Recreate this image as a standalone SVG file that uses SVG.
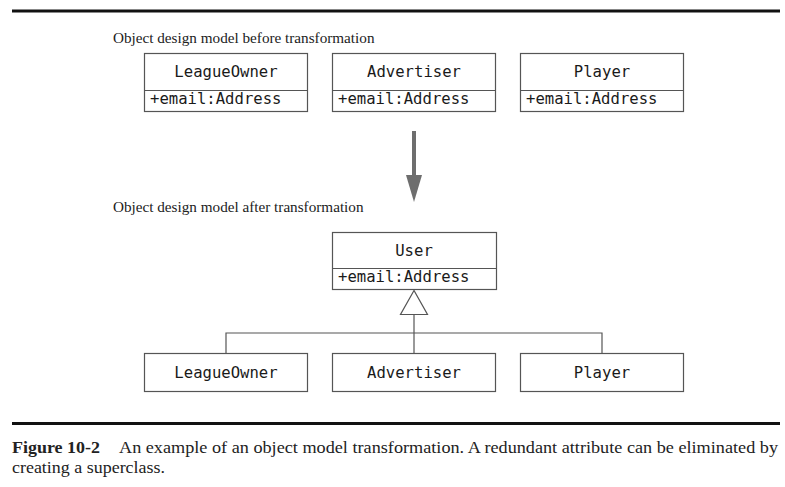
<svg xmlns="http://www.w3.org/2000/svg" width="785" height="487" viewBox="0 0 785 487">
<style>
.box{fill:#fff;stroke:#555;stroke-width:1.2}
.ln{stroke:#555;stroke-width:1.2;fill:none}
.mono{font-family:"DejaVu Sans Mono","Liberation Mono",monospace;font-size:15.6px;fill:#1a1a1a}
.ser{font-family:"Liberation Serif","Times New Roman",serif;font-size:15.2px;fill:#222}
.cap{font-family:"Liberation Serif","Times New Roman",serif;font-size:17px;fill:#222}
.rule{stroke:#111;stroke-width:3}
</style>
<rect width="785" height="487" fill="#fff"/>
<line class="rule" x1="12" y1="11" x2="780" y2="11"/>
<text class="ser" x="113" y="43">Object design model before transformation</text>

<g id="top-leagueowner">
<rect class="box" x="144.5" y="53.5" width="163" height="58"/>
<line class="ln" x1="144.5" y1="90.5" x2="307.5" y2="90.5"/>
<text class="mono" x="226" y="77" text-anchor="middle">LeagueOwner</text>
<text class="mono" x="150" y="104">+email:Address</text>
</g>
<g id="top-advertiser">
<rect class="box" x="332.5" y="53.5" width="163" height="58"/>
<line class="ln" x1="332.5" y1="90.5" x2="495.5" y2="90.5"/>
<text class="mono" x="414" y="77" text-anchor="middle">Advertiser</text>
<text class="mono" x="338" y="104">+email:Address</text>
</g>
<g id="top-player">
<rect class="box" x="520.5" y="53.5" width="163" height="58"/>
<line class="ln" x1="520.5" y1="90.5" x2="683.5" y2="90.5"/>
<text class="mono" x="602" y="77" text-anchor="middle">Player</text>
<text class="mono" x="526" y="104">+email:Address</text>
</g>

<g id="transform-arrow">
<rect x="412" y="131" width="4" height="46" fill="#6e6e6e"/>
<polygon points="406,175 422,175 414,202" fill="#6e6e6e"/>
</g>

<text class="ser" x="113" y="212">Object design model after transformation</text>

<g id="user">
<rect class="box" x="332.5" y="232.5" width="164" height="57"/>
<line class="ln" x1="332.5" y1="268.5" x2="496.5" y2="268.5"/>
<text class="mono" x="414" y="256" text-anchor="middle">User</text>
<text class="mono" x="338" y="282">+email:Address</text>
</g>

<g id="connectors">
<polygon class="ln" points="414,290.5 400.5,314.5 427.5,314.5" style="fill:#fff"/>
<line class="ln" x1="414" y1="314.5" x2="414" y2="353.5"/>
<polyline class="ln" points="226,353.5 226,333 602,333 602,353.5"/>
</g>

<g id="bottom-leagueowner">
<rect class="box" x="144.5" y="353.5" width="163" height="38"/>
<text class="mono" x="226" y="378" text-anchor="middle">LeagueOwner</text>
</g>
<g id="bottom-advertiser">
<rect class="box" x="332.5" y="353.5" width="163" height="38"/>
<text class="mono" x="414" y="378" text-anchor="middle">Advertiser</text>
</g>
<g id="bottom-player">
<rect class="box" x="520.5" y="353.5" width="163" height="38"/>
<text class="mono" x="602" y="378" text-anchor="middle">Player</text>
</g>

<line class="rule" x1="12" y1="423.5" x2="780" y2="423.5"/>
<text class="cap" x="12" y="453" font-weight="bold" textLength="88" lengthAdjust="spacingAndGlyphs">Figure 10-2</text>
<text class="cap" x="119" y="453" textLength="659" lengthAdjust="spacingAndGlyphs">An example of an object model transformation. A redundant attribute can be eliminated by</text>
<text class="cap" x="12" y="473" textLength="153" lengthAdjust="spacingAndGlyphs">creating a superclass.</text>
</svg>
